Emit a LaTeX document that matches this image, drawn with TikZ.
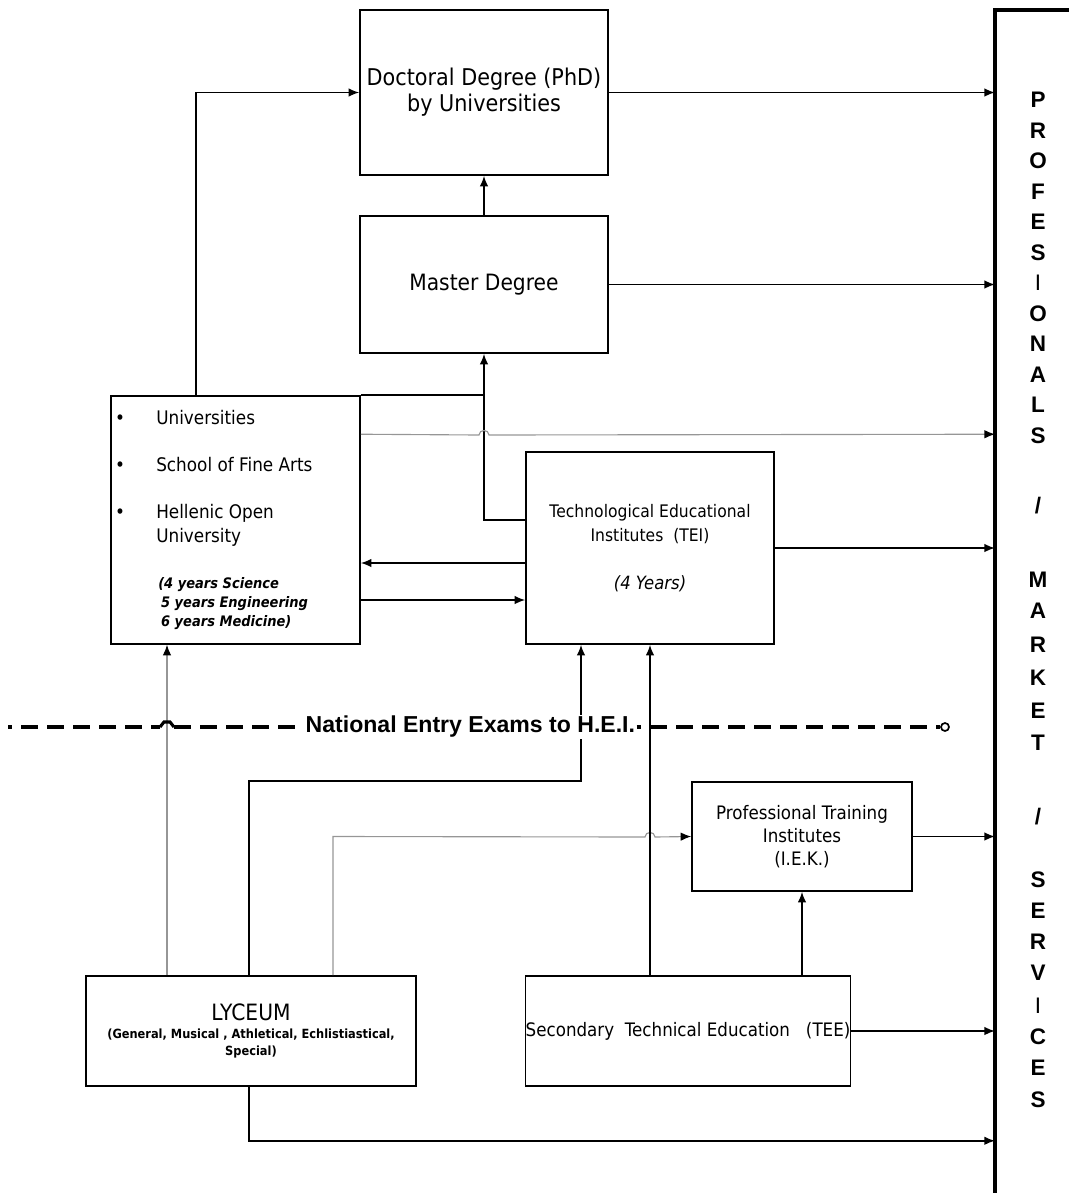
\documentclass[tikz,border=0pt]{standalone}
\usepackage{fontspec}
\setmainfont{DejaVu Sans}[FakeStretch=0.9]
\newfontfamily\mkfont{Liberation Sans}
\usetikzlibrary{arrows.meta,calc}
\newcommand{\pxl}{0.025cm}
\newcommand{\mslash}{/}
\newcommand{\mI}{{\mdseries I}}
\definecolor{grayline}{RGB}{150,150,150}
\begin{document}
\begin{tikzpicture}[x=0.025cm,y=-0.025cm,
  box/.style={draw,line width=1.1pt,inner sep=0pt,align=center},
  conn/.style={line width=1.1pt,-{Latex[length=7.5pt,width=6pt]}},
  plain/.style={line width=1.1pt},
  gconn/.style={draw=grayline,line width=0.8pt,-{Latex[length=7.5pt,width=6pt,color=black]}},
  barline/.style={line width=2.4pt},
  exam/.style={line width=2.2pt,dash pattern=on 12pt off 6.5pt,dash phase=9pt},
  mk/.style={font=\mkfont\bfseries\fontsize{16}{18}\selectfont,inner sep=0pt},
  txt/.style={inner sep=0pt,anchor=west,align=left},
  bul/.style={inner sep=0pt,anchor=base,font=\fontsize{13.3}{17}\selectfont}]
\useasboundingbox (0,0) rectangle (1069,1193);

% boxes
\node[box,minimum width=248*\pxl,minimum height=165*\pxl,font=\fontsize{16.4}{18.5}\selectfont] (PhD) at (484,92.5) {Doctoral Degree (PhD)\\by Universities};
\node[box,minimum width=248*\pxl,minimum height=137*\pxl,font=\fontsize{16}{18}\selectfont] (Master) at (484,284.5) {Master Degree};
\node[box,minimum width=249*\pxl,minimum height=248*\pxl] (Univ) at (235.5,520) {};
\node[box,minimum width=248*\pxl,minimum height=192*\pxl,font=\fontsize{12.3}{17}\selectfont] (TEI) at (650,548) {Technological Educational\\Institutes\ \ (TEI)\\[17pt]{\itshape\fontsize{13}{17}\selectfont (4 Years)}};
\node[box,minimum width=220*\pxl,minimum height=109*\pxl,font=\fontsize{13.2}{16.4}\selectfont] (IEK) at (802,836.5) {Professional Training\\Institutes\\(I.E.K.)};
\node[box,minimum width=330*\pxl,minimum height=110*\pxl] (Lyc) at (251,1031) {{\fontsize{16}{18}\selectfont LYCEUM}\\[1pt]{\bfseries\fontsize{9}{12.8}\selectfont (General, Musical , Athletical, Echlistiastical,}\\{\bfseries\fontsize{9}{12.8}\selectfont Special)}};
\node[box,minimum width=324*\pxl,minimum height=110*\pxl,font=\fontsize{13.2}{16}\selectfont] (TEE) at (688,1031) {Secondary\ \ Technical Education\ \ \ (TEE)};

% university box content
\node[txt,font=\fontsize{13.3}{17}\selectfont] (t1) at (156,418) {Universities};
\node[txt,font=\fontsize{13.3}{17}\selectfont] (t2) at (156,465) {School of Fine Arts};
\node[txt,font=\fontsize{13.3}{17}\selectfont] (t3) at (156,513) {Hellenic Open};
\node[txt,font=\fontsize{13.3}{17}\selectfont] (t3b) at (156,537) {University};
\coordinate (bx) at (120,0);
\node[bul] (b1) at (t1.base -| bx) {•};
\node[bul] (b2) at (t2.base -| bx) {•};
\node[bul] (b3) at (t3.base -| bx) {•};
\node[txt,font=\bfseries\itshape\fontsize{10.3}{13.5}\selectfont] (yrs) at (158,604) {(4 years Science\\\hspace*{2pt}5 years Engineering\\\hspace*{2pt}6 years Medicine)};

% market bar
\node[inner sep=0pt,minimum width=80*\pxl,minimum height=1190*\pxl,anchor=north west] (mkt) at (995,10) {};
\draw[barline] (mkt.south west) -- (mkt.north west) -- (mkt.north east);
\foreach \ch/\yy [count=\k] in {P/100,R/131,O/161,F/192,E/222,S/253,\mI/283,O/314,N/344,A/375,L/405,S/436,\mslash/506,M/580,A/611,R/645,K/678,E/711,T/743,\mslash/817,S/880,E/911,R/942,V/973,\mI/1006,C/1037,E/1068,S/1100}
  \node[mk] (m\k) at (1038,\yy) {\ch};

% connectors
\coordinate (pA) at ([xshift=-39.5*\pxl]Univ.north);
\draw[conn] (pA) |- (PhD.west);
\draw[conn] (PhD.east) -- (PhD.east -| mkt.west);
\draw[conn] (Master.north) -- (PhD.south);
\draw[conn] (Master.east) -- (Master.east -| mkt.west);
\draw[plain] (Univ.north east) -- (Univ.north east -| Master.south);
\coordinate (pB) at ([yshift=28*\pxl]TEI.west);
\draw[conn] (pB) -| (Master.south);
\coordinate (pC) at ([yshift=-39*\pxl]Univ.north east);
\draw[gconn] (pC) -- (479,435) .. controls (479,429) and (489,429) .. (489,435) -- (pC -| mkt.west);
\coordinate (pD) at ([yshift=-15*\pxl]TEI.west);
\draw[conn] (pD) -- (pD -| Univ.east);
\coordinate (pE) at ([yshift=-80*\pxl]Univ.east);
\draw[conn] (pE) -- (pE -| TEI.west);
\draw[conn] (TEI.east) -- (TEI.east -| mkt.west);

\coordinate (lA) at ([xshift=-84*\pxl]Lyc.north);
\draw[gconn] (lA) -- (lA |- Univ.south);
\coordinate (lB) at ([xshift=-2*\pxl]Lyc.north);
\coordinate (tB) at ([xshift=-69*\pxl]TEI.south);
\draw[conn] (lB) -- (lB |- IEK.north) -| (tB);
\coordinate (lC) at ([xshift=82*\pxl]Lyc.north);
\draw[gconn] (lC) -- (lC |- IEK.west) -- (645,837) .. controls (645,831) and (655,831) .. (655,837) -- (IEK.west);
\draw[conn] (TEI.south |- TEE.north) -- (TEI.south);
\draw[conn] (IEK.south |- TEE.north) -- (IEK.south);
\draw[conn] (IEK.east) -- (IEK.east -| mkt.west);
\draw[conn] (TEE.east) -- (TEE.east -| mkt.west);
\coordinate (lF) at ([yshift=-54*\pxl]Lyc.south);
\draw[conn] (lB |- Lyc.south) |- (lF -| mkt.west);

% national entry exams line
\node[circle,draw,line width=1.2pt,minimum size=8*\pxl,inner sep=0pt] (endc) at (945,727) {};
\node[fill=white,inner xsep=1pt,inner ysep=1pt,anchor=west,font=\mkfont\bfseries\fontsize{16.4}{18}\selectfont] (NE) at (304,727) {National Entry Exams to H.E.I.};
\draw[exam] (8,727) -- (160,727);
\draw[line width=2.2pt] (160,727) -- (164,722) -- (170,722) -- (174,727);
\draw[exam,dash phase=0pt] (174,727) -- (NE.west);
\draw[exam] (NE.east) -- (endc.west);
\end{tikzpicture}
\end{document}
